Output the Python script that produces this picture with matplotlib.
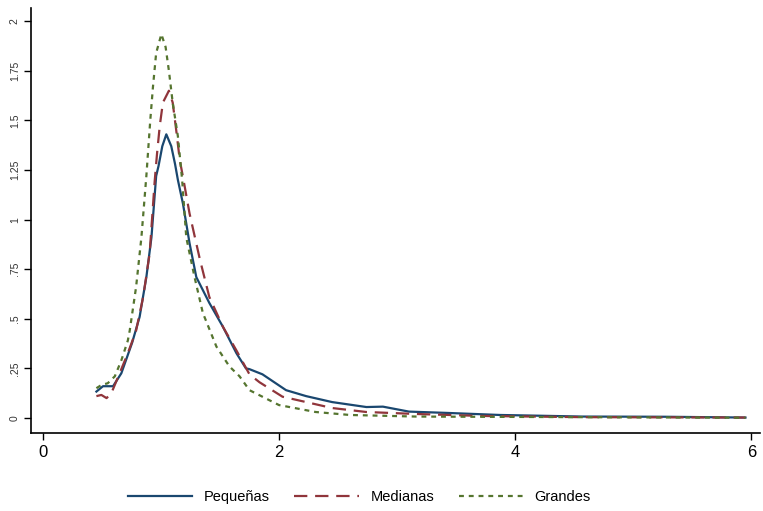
import numpy as np
import matplotlib
matplotlib.use("Agg")
import matplotlib.pyplot as plt

plt.rcParams['font.family'] = ['Liberation Sans', 'DejaVu Sans']

# Density estimates
x_peq = [0.454, 0.51, 0.595, 0.665, 0.757, 0.82, 0.877, 0.92, 0.96, 0.98, 1.012, 1.046, 1.088,
         1.12, 1.144, 1.187, 1.243, 1.30, 1.41, 1.525, 1.64, 1.72, 1.75, 1.86, 2.06, 2.23, 2.45,
         2.74, 2.88, 3.10, 3.44, 3.87, 4.14, 4.57, 5.27, 5.95]
y_peq = [0.133, 0.16, 0.16, 0.225, 0.38, 0.51, 0.71, 0.91, 1.22, 1.27, 1.37, 1.43, 1.37,
         1.28, 1.20, 1.08, 0.88, 0.71, 0.58, 0.46, 0.326, 0.25, 0.246, 0.22, 0.14, 0.11, 0.08,
         0.055, 0.057, 0.032, 0.025, 0.015, 0.012, 0.007, 0.006, 0.002]

x_med = [0.454, 0.496, 0.54, 0.58, 0.64, 0.72, 0.79, 0.85, 0.905, 0.947, 0.967, 0.99, 1.017,
         1.068, 1.10, 1.13, 1.16, 1.187, 1.243, 1.33, 1.41, 1.525, 1.64, 1.75, 1.835, 2.03,
         2.23, 2.45, 2.74, 3.16, 3.72, 4.57, 5.95]
y_med = [0.11, 0.116, 0.10, 0.124, 0.21, 0.326, 0.44, 0.61, 0.83, 1.19, 1.33, 1.47, 1.59,
         1.65, 1.59, 1.45, 1.30, 1.215, 1.03, 0.80, 0.61, 0.46, 0.34, 0.22, 0.18, 0.107,
         0.08, 0.05, 0.03, 0.02, 0.01, 0.004, 0.002]

x_gra = [0.454, 0.496, 0.55, 0.61, 0.665, 0.72, 0.736, 0.79, 0.835, 0.877, 0.91, 0.933, 0.96,
         1.004, 1.04, 1.068, 1.10, 1.144, 1.18, 1.215, 1.285, 1.355, 1.47, 1.58, 1.666, 1.75,
         2.0, 2.31, 2.6, 3.16, 5.95]
y_gra = [0.15, 0.166, 0.175, 0.21, 0.29, 0.39, 0.44, 0.66, 0.91, 1.22, 1.50, 1.67, 1.84,
         1.935, 1.87, 1.75, 1.59, 1.42, 1.20, 0.91, 0.71, 0.53, 0.36, 0.26, 0.21, 0.14,
         0.065, 0.03, 0.015, 0.007, 0.001]

labels = ['Pequeñas', 'Medianas', 'Grandes']
yticks = [0, 0.25, 0.5, 0.75, 1, 1.25, 1.5, 1.75, 2]
ytick_labels = ['0', '.25', '.5', '.75', '1', '1.25', '1.5', '1.75', '2']
xticks = [0, 2, 4, 6]

fig = plt.figure(figsize=(7.63, 5.11), dpi=100)
ax = fig.add_axes([0.0406, 0.1526, 0.955, 0.831])

ax.plot(x_peq, y_peq, color='#1a476f', lw=1.6, label=labels[0])
ax.plot(x_med, y_med, color='#90353b', lw=1.6, dashes=(6, 3.5), label=labels[1])
ax.plot(x_gra, y_gra, color='#55752f', lw=1.6, dashes=(2.2, 2.2), label=labels[2])

ax.set_xlim(-0.10, 6.07)
ax.set_ylim(-0.076, 2.065)
ax.set_xticks(xticks)
ax.set_xticklabels([str(t) for t in xticks], fontsize=12)
ax.set_yticks(yticks)
ax.set_yticklabels(ytick_labels, fontsize=7.5, rotation=90, va='center', color='#333333')
ax.tick_params(direction='out', length=5, width=1)
ax.tick_params(axis='y', pad=3)
for s in ['top', 'right']:
    ax.spines[s].set_visible(False)
for s in ['left', 'bottom']:
    ax.spines[s].set_linewidth(1.2)

fig.legend(loc='center', bbox_to_anchor=(0.471, 0.027), ncol=3, frameon=False,
           fontsize=10.5, handlelength=4.4, columnspacing=1.7, handletextpad=0.8)

fig.savefig('out.png', dpi=100)
